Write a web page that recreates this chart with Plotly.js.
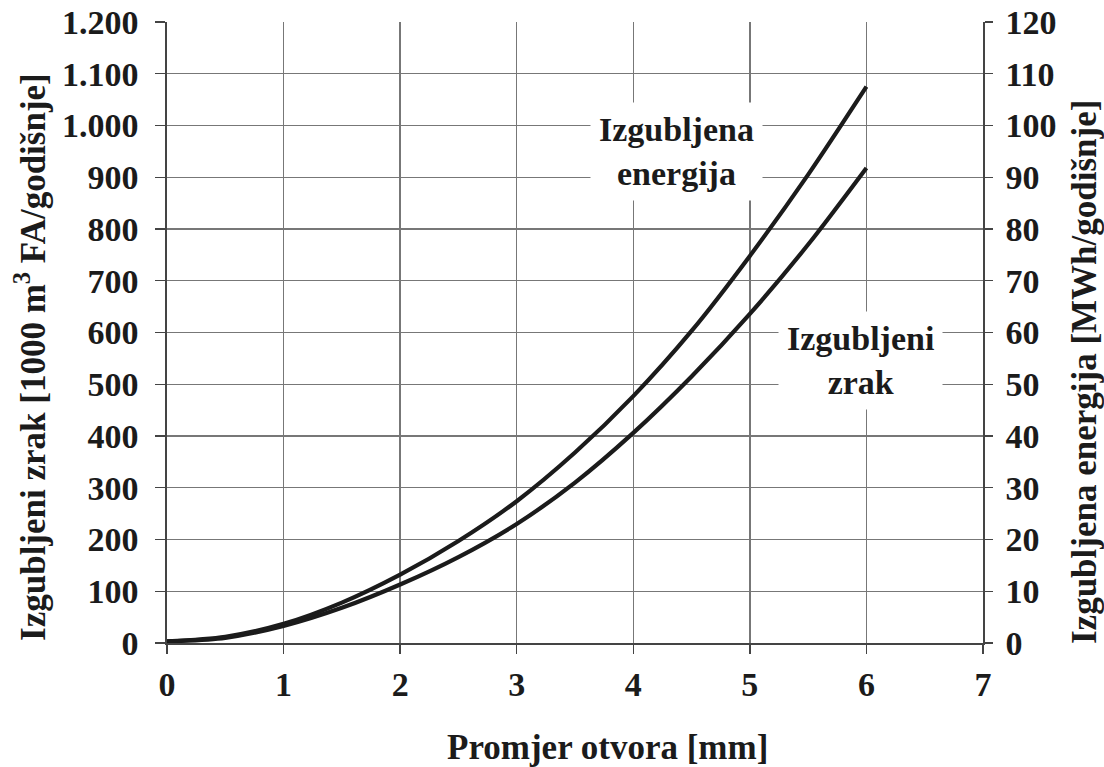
<!DOCTYPE html>
<html>
<head>
<meta charset="utf-8">
<script src="https://cdn.plot.ly/plotly-3.0.1.min.js"></script>
<style>
  html, body { margin: 0; padding: 0; background: #fff; }
  #chart { width: 1104px; height: 767px; }
</style>
</head>
<body>
<div id="chart"></div>
<script>
// Hole diameter [mm]
const diameterMm = [0, 0.5, 1, 1.5, 2, 2.5, 3, 3.5, 4, 4.5, 5, 5.5, 6];
// Lost air [1000 m3 FA / year] (left axis)
const lostAir = [3, 10, 33, 68, 113, 166, 230, 310, 406, 515, 636, 770, 918];
// Lost energy [MWh / year] (right axis)
const lostEnergy = [0.3, 1.2, 3.7, 7.8, 13.2, 19.7, 27.4, 36.8, 47.7, 60.3, 74.8, 90.5, 107.5];

// Axis ticks
const leftTickVals = [0, 100, 200, 300, 400, 500, 600, 700, 800, 900, 1000, 1100, 1200];
const leftTickText = ['0', '100', '200', '300', '400', '500', '600', '700', '800', '900', '1.000', '1.100', '1.200'];
const rightTickVals = [0, 10, 20, 30, 40, 50, 60, 70, 80, 90, 100, 110, 120];
const xTickVals = [0, 1, 2, 3, 4, 5, 6, 7];

const ink = '#1b1b1b';
const gridCol = '#777';
const axisCol = '#444';
const serifBold = '"Liberation Serif", "Times New Roman", serif';

const traces = [
  {
    x: diameterMm, y: lostAir, yaxis: 'y', type: 'scatter', mode: 'lines',
    line: { color: ink, width: 4.2, shape: 'spline', smoothing: 0.8 },
    name: 'Izgubljeni zrak', hoverinfo: 'x+y'
  },
  {
    x: diameterMm, y: lostEnergy, yaxis: 'y2', type: 'scatter', mode: 'lines',
    line: { color: ink, width: 4.2, shape: 'spline', smoothing: 0.8 },
    name: 'Izgubljena energija', hoverinfo: 'x+y'
  }
];

const tickFont = { family: serifBold, size: 34, color: ink, weight: 'bold' };
const titleFont = { family: serifBold, size: 35, color: ink };
const labelFont = { family: serifBold, size: 34, color: ink };

const layout = {
  width: 1104, height: 767,
  margin: { l: 167, r: 121, t: 22, b: 124 },
  paper_bgcolor: '#fff', plot_bgcolor: '#fff',
  showlegend: false,
  font: { family: serifBold, color: ink },
  xaxis: {
    range: [0, 7], tickvals: xTickVals,
    showgrid: true, gridcolor: gridCol, gridwidth: 1.4,
    zeroline: false,
    showline: true, linecolor: axisCol, linewidth: 1.6,
    ticks: 'outside', ticklen: 9, tickwidth: 1.4, tickcolor: axisCol,
    tickfont: tickFont, ticklabelstandoff: 2
  },
  yaxis: {
    range: [0, 1200], tickvals: leftTickVals, ticktext: leftTickText,
    showgrid: true, gridcolor: gridCol, gridwidth: 1.4,
    zeroline: false,
    showline: true, linecolor: axisCol, linewidth: 1.6,
    ticks: 'outside', ticklen: 10, tickwidth: 1.4, tickcolor: axisCol,
    tickfont: tickFont, ticklabelstandoff: 10
  },
  yaxis2: {
    overlaying: 'y', side: 'right',
    range: [0, 120], tickvals: rightTickVals,
    showgrid: false, zeroline: false,
    showline: true, linecolor: axisCol, linewidth: 1.6,
    ticks: 'outside', ticklen: 8, tickwidth: 1.4, tickcolor: axisCol,
    tickfont: tickFont, ticklabelstandoff: 6
  },
  annotations: [
    // axis titles
    {
      x: 0.5404, y: -0.169, xref: 'paper', yref: 'paper',
      xanchor: 'center', yanchor: 'middle',
      text: '<b>Promjer otvora [mm]</b>', showarrow: false, font: titleFont
    },
    {
      x: -0.168, y: 0.4605, xref: 'paper', yref: 'paper',
      xanchor: 'center', yanchor: 'middle', textangle: -90,
      text: '<b>Izgubljeni zrak [1000 m<sup>3</sup> FA/godišnje]</b>', showarrow: false, font: titleFont
    },
    {
      x: 1.125, y: 0.4364, xref: 'paper', yref: 'paper',
      xanchor: 'center', yanchor: 'middle', textangle: -90,
      text: '<b>Izgubljena energija [MWh/godišnje]</b>', showarrow: false, font: titleFont
    },
    // curve labels
    {
      x: 4.37, y: 950, xref: 'x', yref: 'y',
      text: '<b>Izgubljena<br>energija</b>', showarrow: false,
      font: labelFont, bgcolor: '#fff', borderpad: 8, align: 'center'
    },
    {
      x: 5.95, y: 545, xref: 'x', yref: 'y',
      text: '<b>Izgubljeni<br>zrak</b>', showarrow: false,
      font: labelFont, bgcolor: '#fff', borderpad: 8, align: 'center'
    }
  ]
};

Plotly.newPlot('chart', traces, layout, { displayModeBar: false, staticPlot: true });
</script>
</body>
</html>
